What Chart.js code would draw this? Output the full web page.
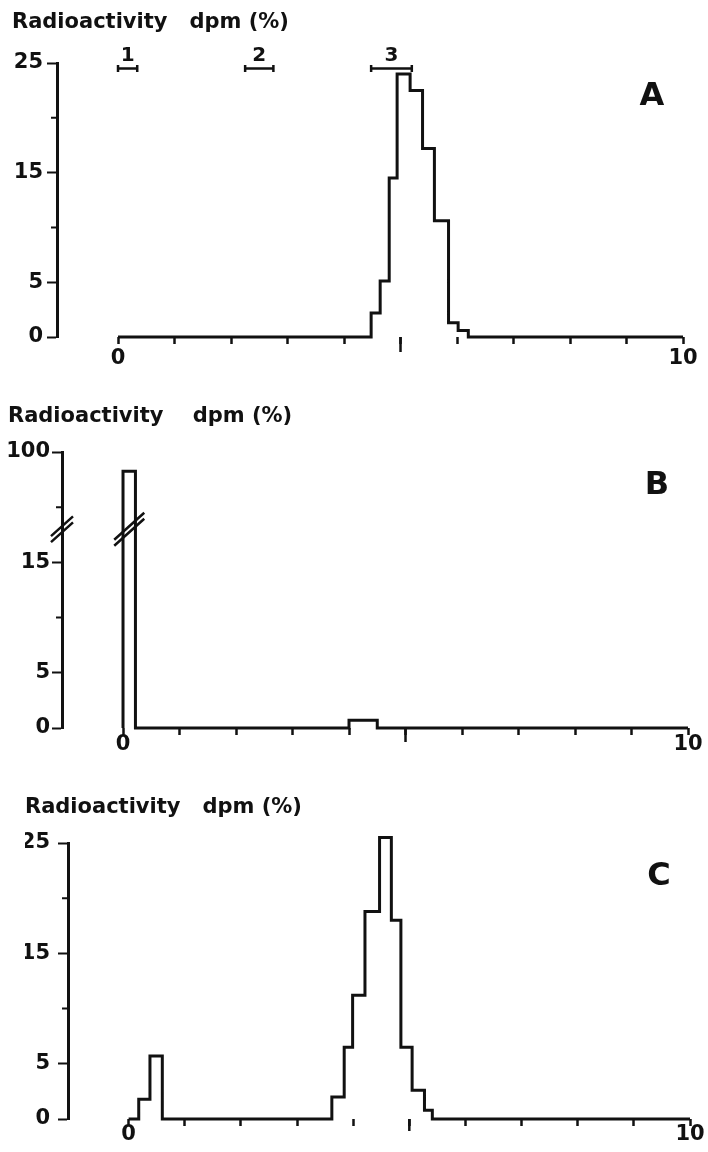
<!DOCTYPE html>
<html>
<head>
<meta charset="utf-8">
<script src="https://cdn.jsdelivr.net/npm/chart.js@4.4.0/dist/chart.umd.min.js"></script>
<style>
  body { margin: 0; background: #fff; }
  canvas { position: absolute; left: 0; }
</style>
</head>
<body>
<canvas id="chartA" width="708" height="384" style="top:0px"></canvas>
<canvas id="chartB" width="708" height="384" style="top:390px"></canvas>
<canvas id="chartC" width="708" height="372" style="top:780px"></canvas>
<script>
// bin edges (distance on strip) and radioactivity in each bin, dpm %
const aEdges = [4.48, 4.64, 4.80, 4.94, 5.17, 5.39, 5.60, 5.85, 6.02, 6.20];
const aValues = [2.2, 5.1, 14.5, 24.0, 22.5, 17.2, 10.6, 1.3, 0.6];
const bEdges = [0, 0.22, 4.0, 4.5];
const bValues = [96.5, 0, 0.7];
const cEdges = [0.18, 0.38, 0.60, 3.62, 3.84, 3.99, 4.21, 4.47, 4.68, 4.85, 5.05, 5.27, 5.41];
const cValues = [1.8, 5.7, 0, 2.0, 6.5, 11.2, 18.8, 25.5, 18.0, 6.5, 2.6, 0.8];

// reference spots shown on panel A
const markerNames = ['1', '2', '3'];
const markerFrom = [0.0, 2.25, 4.48];
const markerTo = [0.34, 2.75, 5.2];
const markerLevel = 24.5;

const xTicks = [0, 1, 2, 3, 4, 5, 6, 7, 8, 9, 10];
const xTickLabels = ['0', '', '', '', '', '', '', '', '', '', '10'];
const xLongTick = 5;
const yTicksAC = [0, 5, 10, 15, 20, 25];
const yLabelsAC = ['0', '5', '', '15', '', '25'];
const yTicksB = [0, 5, 10, 15, 90, 100];
const yLabelsB = ['0', '5', '', '15', '', '100'];

// broken axis of panel B: values -> position on a 0..25 axis
const bKnotValues = [0, 16, 90, 100];
const bKnotPos = [0, 16, 20, 25];

const ink = '#111';
const family = '"DejaVu Sans", sans-serif';

function brokenPos(v) {
  for (let i = 1; i < bKnotValues.length; i++) {
    if (v <= bKnotValues[i] || i === bKnotValues.length - 1) {
      const t = (v - bKnotValues[i - 1]) / (bKnotValues[i] - bKnotValues[i - 1]);
      return bKnotPos[i - 1] + t * (bKnotPos[i] - bKnotPos[i - 1]);
    }
  }
}
function unbrokenValue(p) {
  for (let i = 1; i < bKnotPos.length; i++) {
    if (p <= bKnotPos[i] || i === bKnotPos.length - 1) {
      const t = (p - bKnotPos[i - 1]) / (bKnotPos[i] - bKnotPos[i - 1]);
      return bKnotValues[i - 1] + t * (bKnotValues[i] - bKnotValues[i - 1]);
    }
  }
}

class BrokenScale extends Chart.LinearScale {
  getPixelForValue(value) {
    if (value === null || value === undefined) return NaN;
    return this.getPixelForDecimal(brokenPos(value) / bKnotPos[bKnotPos.length - 1]);
  }
  getValueForPixel(pixel) {
    return unbrokenValue(this.getDecimalForPixel(pixel) * bKnotPos[bKnotPos.length - 1]);
  }
}
BrokenScale.id = 'broken';
BrokenScale.defaults = {};
Chart.register(BrokenScale);

function histPoints(edges, values) {
  const pts = [{x: xTicks[0], y: 0}];
  values.forEach((v, i) => pts.push({x: edges[i], y: v}));
  pts.push({x: edges[edges.length - 1], y: 0});
  pts.push({x: xTicks[xTicks.length - 1], y: 0});
  return pts;
}

function makePanel(id, o) {
  const decor = {
    id: 'decor',
    afterDraw(chart) {
      const {ctx, chartArea, scales} = chart;
      ctx.save();
      ctx.fillStyle = ink;
      ctx.strokeStyle = ink;

      // short unlabelled ticks on y, long middle tick on x
      ctx.lineWidth = 2;
      ctx.beginPath();
      o.yTicks.forEach((v, i) => {
        if (o.yLabels[i]) return;
        const y = scales.y.getPixelForValue(v);
        ctx.moveTo(chartArea.left - 6, y);
        ctx.lineTo(chartArea.left, y);
      });
      ctx.stroke();
      ctx.lineWidth = 2.5;
      ctx.beginPath();
      const x5 = scales.x.getPixelForValue(xLongTick);
      ctx.moveTo(x5, chartArea.bottom);
      ctx.lineTo(x5, chartArea.bottom + o.longTick);
      ctx.stroke();

      ctx.textAlign = 'center';
      ctx.textBaseline = 'middle';
      ctx.font = 'bold 32px ' + family;
      ctx.fillText(o.letter, chartArea.right - 31, chartArea.top + 34);

      if (o.markers) {
        ctx.lineWidth = 2.5;
        ctx.font = 'bold 20px ' + family;
        markerNames.forEach((name, i) => {
          const x1 = scales.x.getPixelForValue(markerFrom[i]);
          const x2 = scales.x.getPixelForValue(markerTo[i]);
          const y = scales.y.getPixelForValue(markerLevel);
          ctx.beginPath();
          ctx.moveTo(x1, y); ctx.lineTo(x2, y);
          ctx.moveTo(x1, y - 3.5); ctx.lineTo(x1, y + 3.5);
          ctx.moveTo(x2, y - 3.5); ctx.lineTo(x2, y + 3.5);
          ctx.stroke();
          ctx.fillText(name, (x1 + x2) / 2, y - 13);
        });
      }

      if (o.broken) {
        const yb = scales.y.getPixelForValue((bKnotValues[1] + bKnotValues[2]) / 2);
        const barX = scales.x.getPixelForValue((bEdges[0] + bEdges[1]) / 2);
        ctx.lineWidth = 2.5;
        ctx.beginPath();
        [[chartArea.left, 11], [barX, 15]].forEach(([cx, hw]) => {
          [-3, 3].forEach(d => {
            ctx.moveTo(cx - hw, yb + hw * 0.9 + d);
            ctx.lineTo(cx + hw, yb - hw * 0.9 + d);
          });
        });
        ctx.stroke();
      }
      ctx.restore();
    }
  };

  const tickFont = {family: family, size: 21, weight: 'bold', lineHeight: '24px'};

  return new Chart(document.getElementById(id), {
    type: 'line',
    data: {
      datasets: [{
        data: histPoints(o.edges, o.values),
        stepped: true,
        borderColor: ink,
        borderWidth: 3,
        borderJoinStyle: 'miter',
        pointRadius: 0,
        fill: false,
        clip: false
      }]
    },
    options: {
      responsive: false,
      animation: false,
      layout: {padding: {left: o.left, right: o.right, top: 0, bottom: 0}},
      plugins: {
        legend: {display: false},
        tooltip: {enabled: false},
        title: {
          display: true,
          text: o.title,
          align: 'start',
          color: ink,
          font: {family: family, size: 21, weight: 'bold', lineHeight: '24px'},
          padding: {top: o.titleTop, bottom: o.titleBottom}
        }
      },
      scales: {
        x: {
          type: 'linear',
          min: -1.08,
          max: 10,
          afterBuildTicks: s => { s.ticks = xTicks.map(v => ({value: v})); },
          afterFit: s => { s.height = o.xHeight; },
          border: {display: false},
          grid: {drawOnChartArea: false, tickLength: 7, tickWidth: 2.5, tickColor: ink},
          ticks: {
            padding: o.xPad, color: ink, font: tickFont,
            autoSkip: false, maxRotation: 0,
            callback: (v, i) => xTickLabels[i]
          }
        },
        y: {
          type: o.yType,
          min: 0,
          max: o.yMax,
          afterBuildTicks: s => { s.ticks = o.yTicks.map(v => ({value: v})); },
          afterFit: s => { s.width = o.yWidth; },
          border: {display: true, width: 3, color: ink},
          grid: {
            drawOnChartArea: false, tickLength: 10, tickWidth: 2,
            tickColor: c => (o.yLabels[c.index] ? ink : 'rgba(0,0,0,0)')
          },
          ticks: {
            padding: o.yPad, color: ink, font: tickFont, autoSkip: false,
            callback: (v, i) => o.yLabels[i]
          }
        }
      }
    },
    plugins: [decor]
  });
}

makePanel('chartA', {
  edges: aEdges, values: aValues, letter: 'A', markers: true,
  title: 'Radioactivity   dpm (%)', titleTop: 11, titleBottom: 28,
  left: 12, right: 25, yWidth: 45, xHeight: 47, xPad: 3, yPad: 4, longTick: 15,
  yType: 'linear', yMax: 25, yTicks: yTicksAC, yLabels: yLabelsAC
});
makePanel('chartB', {
  edges: bEdges, values: bValues, letter: 'B', broken: true,
  title: 'Radioactivity    dpm (%)', titleTop: 15, titleBottom: 23,
  left: 8, right: 20, yWidth: 54, xHeight: 46, xPad: -2, yPad: 2, longTick: 14,
  yType: 'broken', yMax: 100, yTicks: yTicksB, yLabels: yLabelsB
});
makePanel('chartC', {
  edges: cEdges, values: cValues, letter: 'C',
  title: 'Radioactivity   dpm (%)', titleTop: 16, titleBottom: 23,
  left: 25, right: 18, yWidth: 43, xHeight: 33, xPad: -3, yPad: 8, longTick: 12,
  yType: 'linear', yMax: 25, yTicks: yTicksAC, yLabels: yLabelsAC
});
</script>
</body>
</html>
